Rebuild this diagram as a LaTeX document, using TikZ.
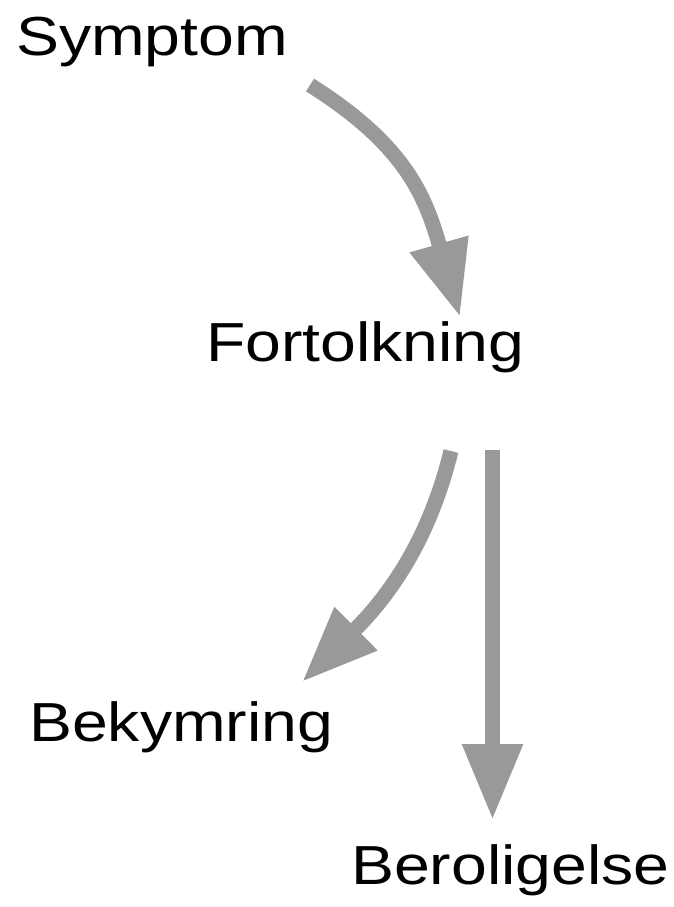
\documentclass[tikz,border=0pt]{standalone}
\usepackage{fontspec}
\newfontfamily\labfont[FakeStretch=1.17]{Liberation Sans}
\usetikzlibrary{arrows.meta}
\definecolor{arrgray}{HTML}{999999}
\tikzset{
  lab/.style={anchor=base west, inner sep=0pt, font=\labfont\fontsize{55}{60}\selectfont, text=black},
  flow/.style={draw=arrgray, line width=15pt, line cap=butt,
    -{Triangle[length=76pt,width=57pt]}}
}
\begin{document}
\begin{tikzpicture}[x=1pt,y=-1pt]
\useasboundingbox (0,0) rectangle (674,907);
\node[lab] (sym) at (16,56) {Symptom};
\node[lab] (fort) at (206,361) {Fortolkning};
\node[lab] (bek) at (29,741) {Bekymring};
\node[lab] (ber) at (351,884) {Beroligelse};
\coordinate (s1) at (310,85);
\coordinate (e1) at (460,317);
\coordinate (s2) at (451,451);
\coordinate (e2) at (302,682);
\coordinate (s3) at (492.5,450);
\coordinate (e3) at (492.5,820);
\draw[flow] (s1) .. controls (405,145) and (425,195) .. (e1);
\draw[flow] (s2) .. controls (428,545) and (385,600) .. (e2);
\draw[flow] (s3) -- (e3);
\end{tikzpicture}
\end{document}
